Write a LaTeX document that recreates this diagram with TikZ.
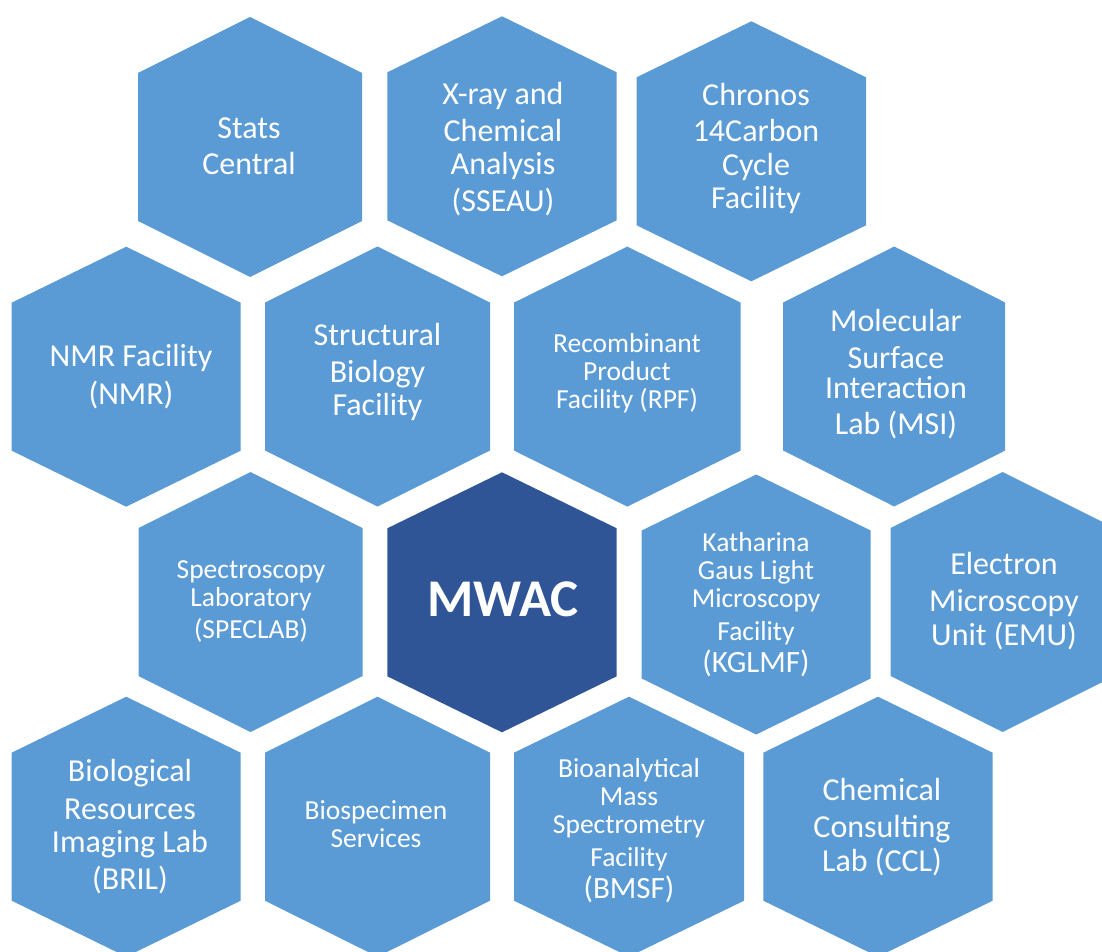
\documentclass[tikz,border=0pt]{standalone}
\usepackage{fontspec}
\setmainfont{Carlito}
\definecolor{hexlight}{HTML}{5B9BD5}
\definecolor{hexdark}{HTML}{2F5597}
\newcommand\hexcell[4]{% cx, cy, half width, colour
  \fill[#4] (#1,#2) ++(0,-130) -- ++(#3,56) -- ++(0,148) -- ++(-#3,56) -- ++(-#3,-56) -- ++(0,-148) -- cycle;}
\tikzset{
  lab/.style={text=white, align=center, inner sep=0pt, anchor=center},
  big/.style={lab, font=\fontsize{32}{33.5}\selectfont},
  small/.style={lab, font=\fontsize{27.5}{28}\selectfont},
  hub/.style={lab, font=\fontsize{53}{60}\selectfont\bfseries}
}
\newcommand\bigline{\fontsize{31}{33}\selectfont}
\begin{document}
\begin{tikzpicture}[x=1pt,y=-1pt]
\useasboundingbox (0,0) rectangle (1102,952);
\clip (0,0) rectangle (1102,952);
% row 1
\hexcell{250}{147}{112}{hexlight}
\hexcell{502}{146.3}{114.7}{hexlight}
\hexcell{751.3}{151.3}{114.7}{hexlight}
% row 2
\hexcell{126.2}{376.7}{114.5}{hexlight}
\hexcell{377.5}{376.5}{112.5}{hexlight}
\hexcell{627.3}{376.6}{113.3}{hexlight}
\hexcell{894.2}{376.5}{111}{hexlight}
% row 3
\hexcell{250.5}{602}{112}{hexlight}
\hexcell{502}{602.3}{114.7}{hexdark}
\hexcell{756.2}{604.5}{114.5}{hexlight}
\hexcell{1002.7}{602}{112}{hexlight}
% row 4
\hexcell{126.2}{826.7}{114.5}{hexlight}
\hexcell{377.5}{826.7}{112.5}{hexlight}
\hexcell{629}{826.7}{115}{hexlight}
\hexcell{878}{826.7}{114.7}{hexlight}
% labels
\node[big] (stats) at (249,146) {Stats\\[3pt]Central};
\node[big] (xray) at (503,149) {X-ray and\\[3pt]Chemical\\Analysis\\[3pt](SSEAU)};
\node[big] (chronos) at (756,148.5) {Chronos\\[3pt]14Carbon\\Cycle\\Facility};
\node[big] (nmr) at (131,376.5) {NMR Facility\\[4.5pt](NMR)};
\node[big] (struct) at (377.5,372) {Structural\\[3pt]Biology\\Facility};
\node[small] (rpf) at (627,373) {Recombinant\\Product\\Facility (RPF)};
\node[big] (msi) at (896,374) {Molecular\\[4pt]Surface\\[-4pt]Interaction\\[2.5pt]Lab (MSI)};
\node[small] (speclab) at (251,601) {Spectroscopy\\Laboratory\\[4pt](SPECLAB)};
\node[hub] (mwac) at (503,599) {MWAC};
\node[small] (kglmf) at (756,604.5) {Katharina\\Gaus Light\\Microscopy\\[5pt]Facility\\[4pt]{\bigline(KGLMF)}};
\node[big] (emu) at (1004,601) {Electron\\[4pt]Microscopy\\Unit (EMU)};
\node[big] (bril) at (130,826.5) {Biological\\[4pt]Resources\\Imaging Lab\\[3pt](BRIL)};
\node[small] (bios) at (376,824.5) {Biospecimen\\Services};
\node[small] (bmsf) at (629,830.5) {Bioanalytical\\Mass\\Spectrometry\\[5pt]Facility\\[4pt]{\bigline(BMSF)}};
\node[big] (ccl) at (882,827) {Chemical\\[4pt]Consulting\\Lab (CCL)};
\end{tikzpicture}
\end{document}
